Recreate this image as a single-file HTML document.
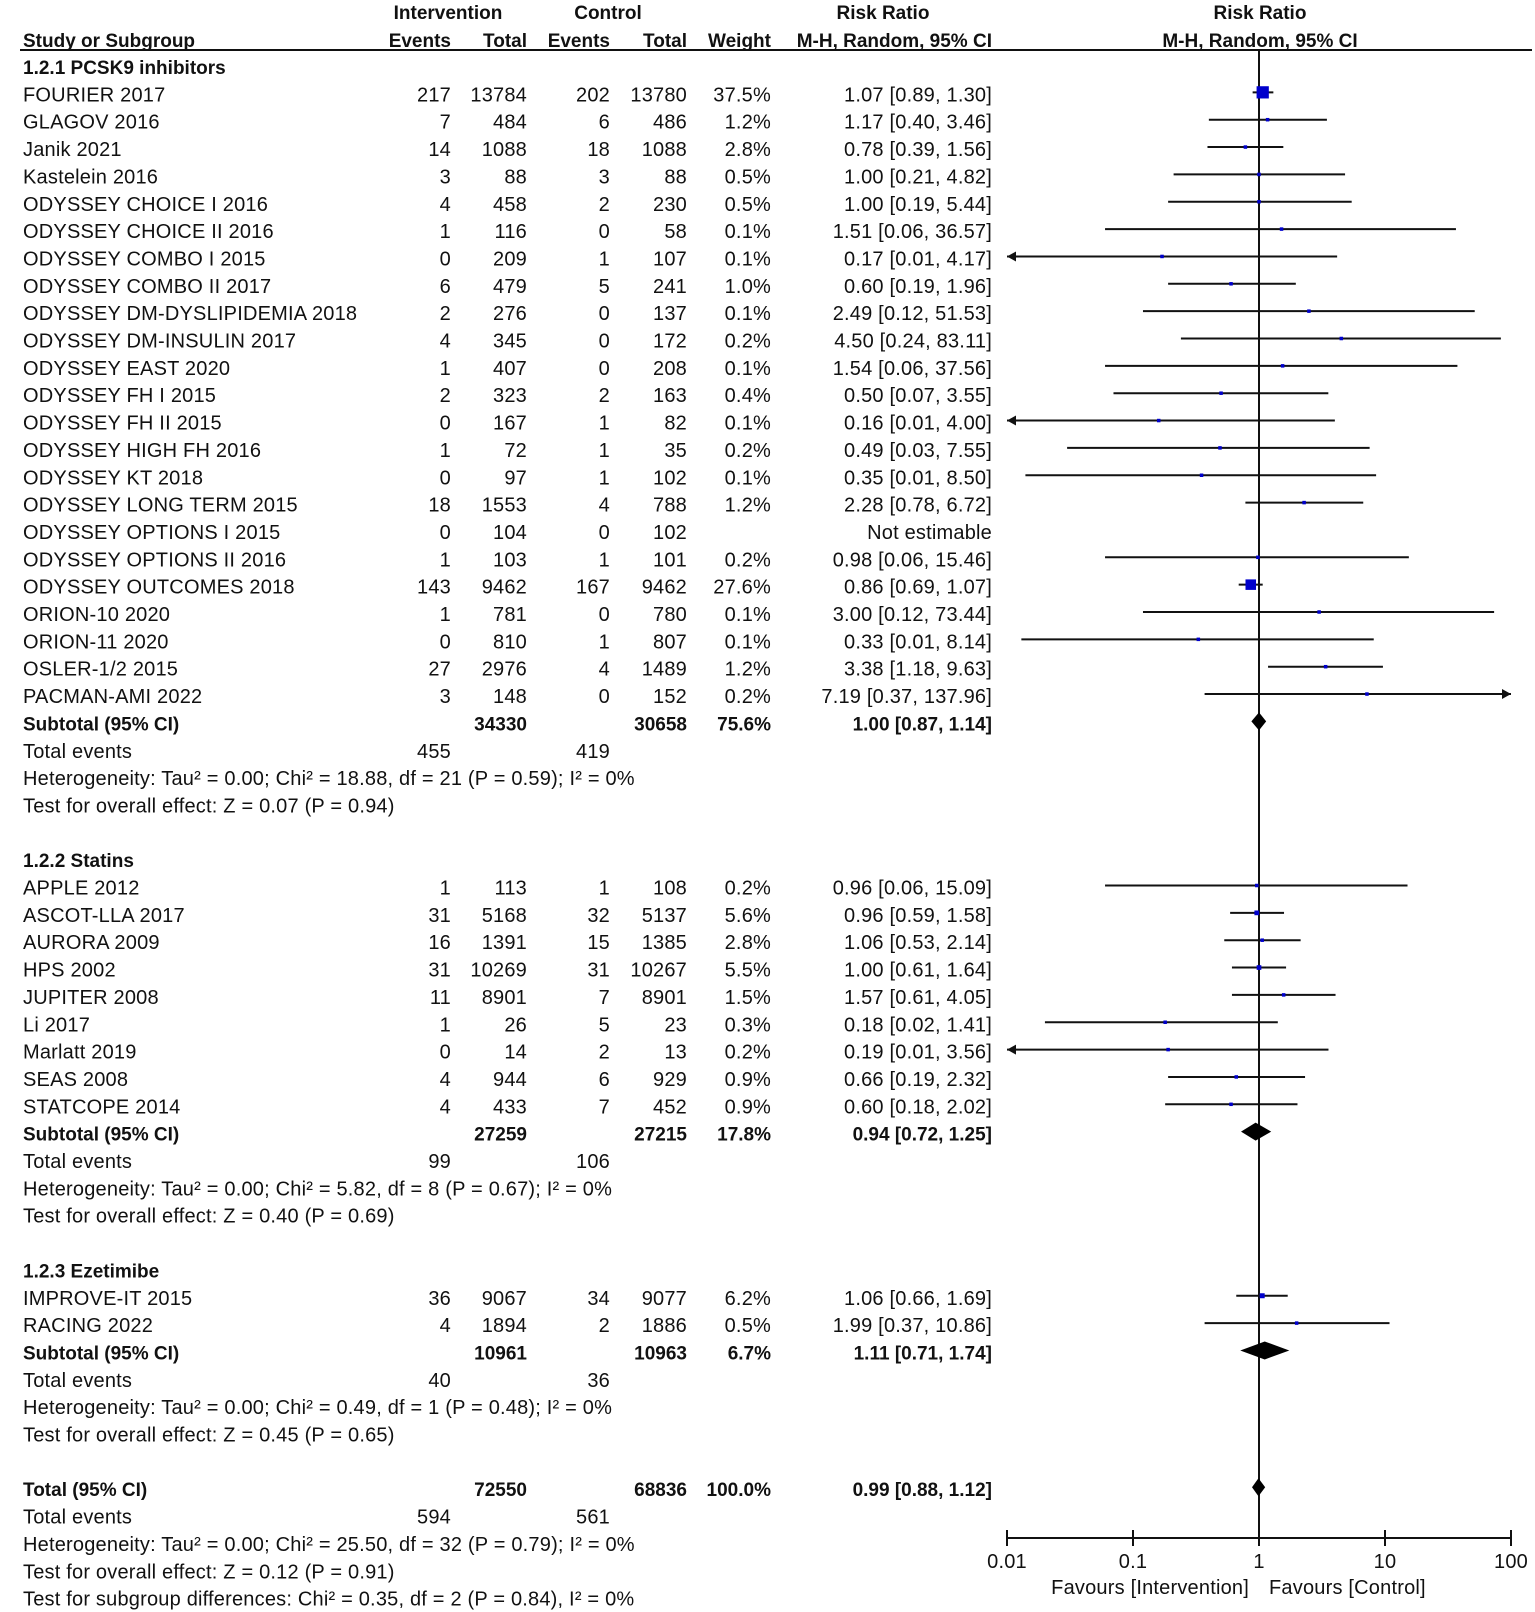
<!DOCTYPE html>
<html><head><meta charset="utf-8"><style>
html,body{margin:0;padding:0;background:#fff}
svg{display:block}
text{font-family:"Liberation Sans",Arial,sans-serif;font-size:20px;fill:#111;letter-spacing:0.2px}
.b{font-weight:bold;font-size:19px;letter-spacing:0}
</style></head><body>
<svg id="plot" width="1535" height="1612" viewBox="0 0 1535 1612" xmlns="http://www.w3.org/2000/svg"></svg>
<script>
// ---- data ----
const groupTitles = ["1.2.1 PCSK9 inhibitors","1.2.2 Statins","1.2.3 Ezetimibe"];
const studyNames = [
["FOURIER 2017","GLAGOV 2016","Janik 2021","Kastelein 2016","ODYSSEY CHOICE I 2016","ODYSSEY CHOICE II 2016","ODYSSEY COMBO I 2015","ODYSSEY COMBO II 2017","ODYSSEY DM-DYSLIPIDEMIA 2018","ODYSSEY DM-INSULIN 2017","ODYSSEY EAST 2020","ODYSSEY FH I 2015","ODYSSEY FH II 2015","ODYSSEY HIGH FH 2016","ODYSSEY KT 2018","ODYSSEY LONG TERM 2015","ODYSSEY OPTIONS I 2015","ODYSSEY OPTIONS II 2016","ODYSSEY OUTCOMES 2018","ORION-10 2020","ORION-11 2020","OSLER-1/2 2015","PACMAN-AMI 2022"],
["APPLE 2012","ASCOT-LLA 2017","AURORA 2009","HPS 2002","JUPITER 2008","Li 2017","Marlatt 2019","SEAS 2008","STATCOPE 2014"],
["IMPROVE-IT 2015","RACING 2022"]];
const events1 = [[217,7,14,3,4,1,0,6,2,4,1,2,0,1,0,18,0,1,143,1,0,27,3],[1,31,16,31,11,1,0,4,4],[36,4]];
const totals1 = [[13784,484,1088,88,458,116,209,479,276,345,407,323,167,72,97,1553,104,103,9462,781,810,2976,148],[113,5168,1391,10269,8901,26,14,944,433],[9067,1894]];
const events2 = [[202,6,18,3,2,0,1,5,0,0,0,2,1,1,1,4,0,1,167,0,1,4,0],[1,32,15,31,7,5,2,6,7],[34,2]];
const totals2 = [[13780,486,1088,88,230,58,107,241,137,172,208,163,82,35,102,788,102,101,9462,780,807,1489,152],[108,5137,1385,10267,8901,23,13,929,452],[9077,1886]];
const weights = [[37.5,1.2,2.8,0.5,0.5,0.1,0.1,1.0,0.1,0.2,0.1,0.4,0.1,0.2,0.1,1.2,null,0.2,27.6,0.1,0.1,1.2,0.2],[0.2,5.6,2.8,5.5,1.5,0.3,0.2,0.9,0.9],[6.2,0.5]];
const rr = [[1.07,1.17,0.78,1.00,1.00,1.51,0.17,0.60,2.49,4.50,1.54,0.50,0.16,0.49,0.35,2.28,null,0.98,0.86,3.00,0.33,3.38,7.19],[0.96,0.96,1.06,1.00,1.57,0.18,0.19,0.66,0.60],[1.06,1.99]];
const lower = [[0.89,0.40,0.39,0.21,0.19,0.06,0.009,0.19,0.12,0.24,0.06,0.07,0.009,0.03,0.014,0.78,null,0.06,0.69,0.12,0.013,1.18,0.37],[0.06,0.59,0.53,0.61,0.61,0.02,0.009,0.19,0.18],[0.66,0.37]];
const upper = [[1.30,3.46,1.56,4.82,5.44,36.57,4.17,1.96,51.53,83.11,37.56,3.55,4.00,7.55,8.50,6.72,null,15.46,1.07,73.44,8.14,9.63,137.96],[15.09,1.58,2.14,1.64,4.05,1.41,3.56,2.32,2.02],[1.69,10.86]];
const ciLabels = [["1.07 [0.89, 1.30]","1.17 [0.40, 3.46]","0.78 [0.39, 1.56]","1.00 [0.21, 4.82]","1.00 [0.19, 5.44]","1.51 [0.06, 36.57]","0.17 [0.01, 4.17]","0.60 [0.19, 1.96]","2.49 [0.12, 51.53]","4.50 [0.24, 83.11]","1.54 [0.06, 37.56]","0.50 [0.07, 3.55]","0.16 [0.01, 4.00]","0.49 [0.03, 7.55]","0.35 [0.01, 8.50]","2.28 [0.78, 6.72]","Not estimable","0.98 [0.06, 15.46]","0.86 [0.69, 1.07]","3.00 [0.12, 73.44]","0.33 [0.01, 8.14]","3.38 [1.18, 9.63]","7.19 [0.37, 137.96]"],["0.96 [0.06, 15.09]","0.96 [0.59, 1.58]","1.06 [0.53, 2.14]","1.00 [0.61, 1.64]","1.57 [0.61, 4.05]","0.18 [0.02, 1.41]","0.19 [0.01, 3.56]","0.66 [0.19, 2.32]","0.60 [0.18, 2.02]"],["1.06 [0.66, 1.69]","1.99 [0.37, 10.86]"]];
const subN1 = [34330,27259,10961];
const subN2 = [30658,27215,10963];
const subWeight = ["75.6%","17.8%","6.7%"];
const subRR = [1.00,0.94,1.11];
const subLo = [0.87,0.72,0.71];
const subHi = [1.14,1.25,1.74];
const subLabels = ["1.00 [0.87, 1.14]","0.94 [0.72, 1.25]","1.11 [0.71, 1.74]"];
const subEvents1 = [455,99,40];
const subEvents2 = [419,106,36];
const subHet = ["Heterogeneity: Tau² = 0.00; Chi² = 18.88, df = 21 (P = 0.59); I² = 0%","Heterogeneity: Tau² = 0.00; Chi² = 5.82, df = 8 (P = 0.67); I² = 0%","Heterogeneity: Tau² = 0.00; Chi² = 0.49, df = 1 (P = 0.48); I² = 0%"];
const subTest = ["Test for overall effect: Z = 0.07 (P = 0.94)","Test for overall effect: Z = 0.40 (P = 0.69)","Test for overall effect: Z = 0.45 (P = 0.65)"];
const totalValues = [0.99,0.88,1.12];
const tickValues = [0.01,0.1,1,10,100];
const tickLabels = ["0.01","0.1","1","10","100"];

// ---- layout ----
const svg = document.getElementById('plot');
const NS = 'http://www.w3.org/2000/svg';
const X0 = 1259, DEC = 126, XMIN = X0-2*DEC, XMAX = X0+2*DEC;
function xs(v){ return X0 + DEC*Math.log10(v); }
function ys(r){ return 67 + 27.35*r; }
const col = {name:23, e1:451, n1:527, e2:610, n2:687, w:771, rr:992};
function mk(tag, attrs, name){
  const el = document.createElementNS(NS, tag);
  for (const k in attrs) el.setAttribute(k, attrs[k]);
  
  
  svg.appendChild(el); return el;
}
function txt(x, y, s, anchor, bold, name){
  const t = mk('text', {x:x, y:y+7, 'text-anchor':anchor||'start'}, name);
  if (bold) t.setAttribute('class','b');
  t.textContent = s; return t;
}
function line(x1,y1,x2,y2,name,w){ return mk('line',{x1:x1,y1:y1,x2:x2,y2:y2,stroke:'#111','stroke-width':w||2},name); }

// headers
txt(448, 12, "Intervention", 'middle', true, 'intervention-header');
txt(608, 12, "Control", 'middle', true, 'control-header');
txt(883, 12, "Risk Ratio", 'middle', true, 'risk-ratio-header');
txt(1260, 12, "Risk Ratio", 'middle', true, 'plot-risk-ratio-header');
txt(col.name, 40, "Study or Subgroup", 'start', true, 'study-header');
txt(col.e1, 40, "Events", 'end', true, 'intervention-events-header');
txt(col.n1, 40, "Total", 'end', true, 'intervention-total-header');
txt(col.e2, 40, "Events", 'end', true, 'control-events-header');
txt(col.n2, 40, "Total", 'end', true, 'control-total-header');
txt(col.w, 40, "Weight", 'end', true, 'weight-header');
txt(col.rr, 40, "M-H, Random, 95% CI", 'end', true, 'rr-method-header');
txt(1260, 40, "M-H, Random, 95% CI", 'middle', true, 'plot-method-header');
line(20, 50, 1532, 50, 'header-rule', 2);

// null line
line(X0, 50, X0, 1538, 'null-line', 2);

function ciLine(y, lo, hi, name){
  const a = Math.max(xs(lo), XMIN), b = Math.min(xs(hi), XMAX);
  line(a, y, b, y, name, 2);
  if (xs(lo) < XMIN) mk('polygon',{points:`${XMIN},${y} ${XMIN+9},${y-5} ${XMIN+9},${y+5}`,fill:'#111'},'arrow-left');
  if (xs(hi) > XMAX) mk('polygon',{points:`${XMAX},${y} ${XMAX-9},${y-5} ${XMAX-9},${y+5}`,fill:'#111'},'arrow-right');
}
function diamond(y, v, lo, hi, name){
  mk('polygon',{points:`${xs(lo)},${y} ${xs(v)},${y-9} ${xs(hi)},${y} ${xs(v)},${y+9}`,fill:'#000'},name);
}

const groupStart = [0, 29, 44];
for (let g=0; g<3; g++){
  let r = groupStart[g];
  txt(col.name, ys(r), groupTitles[g], 'start', true, 'subgroup-title');
  for (let i=0;i<studyNames[g].length;i++){
    r++; const y = ys(r);
    txt(col.name, y, studyNames[g][i], 'start', false, 'study-name');
    txt(col.e1, y, String(events1[g][i]), 'end', false, 'intervention-events');
    txt(col.n1, y, String(totals1[g][i]), 'end', false, 'intervention-total');
    txt(col.e2, y, String(events2[g][i]), 'end', false, 'control-events');
    txt(col.n2, y, String(totals2[g][i]), 'end', false, 'control-total');
    if (weights[g][i] !== null) txt(col.w, y, weights[g][i].toFixed(1)+'%', 'end', false, 'weight');
    txt(col.rr, y, ciLabels[g][i], 'end', false, 'risk-ratio-ci');
    if (rr[g][i] !== null){
      const my = y - 2;
      ciLine(my, lower[g][i], upper[g][i], 'ci-line');
      const s = Math.max(3.5, 2*Math.sqrt(weights[g][i]));
      mk('rect',{x:xs(rr[g][i])-s/2, y:my-s/2, width:s, height:s, fill:'#0000cc'},'study-marker');
    }
  }
  r++; let y = ys(r);
  txt(col.name, y, "Subtotal (95% CI)", 'start', true, 'subtotal-label');
  txt(col.n1, y, String(subN1[g]), 'end', true, 'subtotal-intervention-total');
  txt(col.n2, y, String(subN2[g]), 'end', true, 'subtotal-control-total');
  txt(col.w, y, subWeight[g], 'end', true, 'subtotal-weight');
  txt(col.rr, y, subLabels[g], 'end', true, 'subtotal-ci');
  diamond(y-2, subRR[g], subLo[g], subHi[g], 'subtotal-diamond');
  r++; y = ys(r);
  txt(col.name, y, "Total events", 'start', false, 'total-events-label');
  txt(col.e1, y, String(subEvents1[g]), 'end', false, 'total-events-intervention');
  txt(col.e2, y, String(subEvents2[g]), 'end', false, 'total-events-control');
  r++; txt(col.name, ys(r), subHet[g], 'start', false, 'heterogeneity-text');
  r++; txt(col.name, ys(r), subTest[g], 'start', false, 'overall-effect-text');
}
// overall
let yT = ys(52);
txt(col.name, yT, "Total (95% CI)", 'start', true, 'total-label');
txt(col.n1, yT, "72550", 'end', true, 'total-intervention');
txt(col.n2, yT, "68836", 'end', true, 'total-control');
txt(col.w, yT, "100.0%", 'end', true, 'total-weight');
txt(col.rr, yT, "0.99 [0.88, 1.12]", 'end', true, 'total-ci');
diamond(yT-2, totalValues[0], totalValues[1], totalValues[2], 'total-diamond');
txt(col.name, ys(53), "Total events", 'start', false, 'overall-events-label');
txt(col.e1, ys(53), "594", 'end', false, 'overall-events-intervention');
txt(col.e2, ys(53), "561", 'end', false, 'overall-events-control');
txt(col.name, ys(54), "Heterogeneity: Tau² = 0.00; Chi² = 25.50, df = 32 (P = 0.79); I² = 0%", 'start', false, 'overall-heterogeneity');
txt(col.name, ys(55), "Test for overall effect: Z = 0.12 (P = 0.91)", 'start', false, 'overall-effect');
txt(col.name, ys(56), "Test for subgroup differences: Chi² = 0.35, df = 2 (P = 0.84), I² = 0%", 'start', false, 'subgroup-differences');

// axis
line(XMIN, 1538, XMAX, 1538, 'x-axis', 2);
for (let i=0;i<tickValues.length;i++){
  const x = xs(tickValues[i]);
  line(x, 1530, x, 1546, 'x-tick', 2);
  txt(x, 1561, tickLabels[i], 'middle', false, 'x-tick-label');
}
txt(X0-10, 1587, "Favours [Intervention]", 'end', false, 'favours-intervention');
txt(X0+10, 1587, "Favours [Control]", 'start', false, 'favours-control');
</script>
</body></html>
